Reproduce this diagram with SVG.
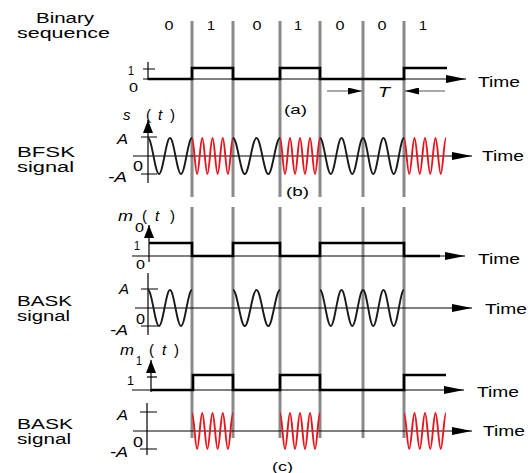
<svg xmlns="http://www.w3.org/2000/svg" width="530" height="473" viewBox="0 0 530 473">
<style>
text{font-family:"Liberation Sans",Arial,sans-serif;fill:#000}
.lab{font-size:14px}
.par{font-size:15px}
.dig{font-size:12.5px}
.tm{font-size:15px}
.it{font-style:italic}
.grid{stroke:#8a8a8a;stroke-width:3;fill:none}
.ax{stroke:#000;stroke-width:1.2;fill:none}
.sq{stroke:#000;stroke-width:2.6;fill:none}
.wk{stroke:#1a1a1a;stroke-width:1.9;fill:none}
.wr{stroke:#e8141c;stroke-width:1.9;fill:none}
</style>
<defs>
<marker id="ah" viewBox="0 0 20 8" refX="20" refY="4" markerWidth="20" markerHeight="8" orient="auto" markerUnits="userSpaceOnUse"><path d="M0,0 L20,4 L0,8 Z" fill="#000"/></marker>
<marker id="av" viewBox="0 0 13 10" refX="13" refY="5" markerWidth="13" markerHeight="10" orient="auto" markerUnits="userSpaceOnUse"><path d="M0,0 L13,5 L0,10 Z" fill="#000"/></marker>
<marker id="at" viewBox="0 0 14 7" refX="14" refY="3.5" markerWidth="14" markerHeight="7" orient="auto" markerUnits="userSpaceOnUse"><path d="M0,0 L14,3.5 L0,7 Z" fill="#000"/></marker>
</defs>

<g id="bit-grid">
<path class="grid" d="M192,21V197M233,21V197M280,21V197M320,21V197M363,21V197M404,21V197"/>
<path class="grid" d="M192,207V438M233,207V438M280,207V438M320,207V438M363,207V438M404,207V438"/>
</g>

<g id="binary-sequence">
<text class="lab" x="36" y="23" textLength="58" lengthAdjust="spacingAndGlyphs">Binary</text>
<text class="lab" x="17" y="38" textLength="93" lengthAdjust="spacingAndGlyphs">sequence</text>
<g class="dig">
<text x="164.5" y="30" textLength="9" lengthAdjust="spacingAndGlyphs">0</text>
<text x="207" y="30" textLength="8" lengthAdjust="spacingAndGlyphs">1</text>
<text x="252.5" y="30" textLength="9" lengthAdjust="spacingAndGlyphs">0</text>
<text x="294" y="30" textLength="8" lengthAdjust="spacingAndGlyphs">1</text>
<text x="335.5" y="30" textLength="9" lengthAdjust="spacingAndGlyphs">0</text>
<text x="377.5" y="30" textLength="9" lengthAdjust="spacingAndGlyphs">0</text>
<text x="419" y="30" textLength="8" lengthAdjust="spacingAndGlyphs">1</text>
</g>
<path class="ax" d="M148,62V80M143,69H155"/>
<path class="ax" d="M143,79H466" marker-end="url(#ah)"/>
<path class="sq" d="M148,79H192V68H233V79H280V68H320V79H404V68H447"/>
<text class="dig" x="128" y="75" textLength="6" lengthAdjust="spacingAndGlyphs">1</text>
<text class="dig" x="129" y="92" textLength="9" lengthAdjust="spacingAndGlyphs">0</text>
<text class="tm" x="478" y="87" textLength="42" lengthAdjust="spacingAndGlyphs">Time</text>
<path d="M327,91H362" stroke="#555" stroke-width="1.2" marker-end="url(#at)"/>
<path d="M445,91H405" stroke="#555" stroke-width="1.2" marker-end="url(#at)"/>
<text class="lab it" x="378" y="97" textLength="12" lengthAdjust="spacingAndGlyphs">T</text>
<text class="dig" x="284" y="114" textLength="23" lengthAdjust="spacingAndGlyphs">(a)</text>
</g>

<g id="bfsk-signal">
<text class="lab" x="17" y="157" textLength="58" lengthAdjust="spacingAndGlyphs">BFSK</text>
<text class="lab" x="17" y="172" textLength="57" lengthAdjust="spacingAndGlyphs">signal</text>
<text class="par it" x="123" y="120">s</text>
<text class="par" x="146" y="120">(</text>
<text class="par it" x="158" y="120">t</text>
<text class="par" x="170" y="120">)</text>
<path class="ax" d="M148,183V120" marker-end="url(#av)"/>
<path class="ax" d="M141,137H157M141,174H157"/>
<path class="ax" d="M133,156H472" marker-end="url(#ah)"/>
<text class="lab it" x="117" y="144" textLength="11" lengthAdjust="spacingAndGlyphs">A</text>
<text class="lab" x="133" y="171" textLength="10" lengthAdjust="spacingAndGlyphs">0</text>
<text class="lab it" x="108" y="182" textLength="19" lengthAdjust="spacingAndGlyphs">-A</text>
<path class="wk" d="M148,138 c4,0 7,36 11,36 s7,-36 11,-36 s7,36 11,36 s7,-36 11,-36
M233,138 c4.28,0 7.47,36 11.75,36 s7.47,-36 11.75,-36 s7.47,36 11.75,36 s7.47,-36 11.75,-36
M320,138 c3.92,0 6.83,36 10.75,36 s6.83,-36 10.75,-36 s6.83,36 10.75,36 s6.83,-36 10.75,-36 s6.52,36 10.25,36 s6.52,-36 10.25,-36 s6.52,36 10.25,36 s6.52,-36 10.25,-36"/>
<path class="wr" d="M192,138 c1.87,0 3.26,36 5.13,36 s3.26,-36 5.13,-36 s3.26,36 5.13,36 s3.26,-36 5.13,-36 s3.26,36 5.13,36 s3.26,-36 5.13,-36 s3.26,36 5.13,36 s3.26,-36 5.13,-36
M280,138 c1.82,0 3.18,36 5,36 s3.18,-36 5,-36 s3.18,36 5,36 s3.18,-36 5,-36 s3.18,36 5,36 s3.18,-36 5,-36 s3.18,36 5,36 s3.18,-36 5,-36
M404,138 c1.91,0 3.34,36 5.25,36 s3.34,-36 5.25,-36 s3.34,36 5.25,36 s3.34,-36 5.25,-36 s3.34,36 5.25,36 s3.34,-36 5.25,-36 s3.34,36 5.25,36 s3.34,-36 5.25,-36"/>
<text class="tm" x="482" y="161" textLength="42" lengthAdjust="spacingAndGlyphs">Time</text>
<text class="dig" x="286" y="196" textLength="23" lengthAdjust="spacingAndGlyphs">(b)</text>
</g>

<g id="m0">
<text class="par it" x="118" y="221" textLength="15" lengthAdjust="spacingAndGlyphs">m</text>
<text class="dig" x="135" y="232" textLength="9" lengthAdjust="spacingAndGlyphs">0</text>
<text class="par" x="142" y="221">(</text>
<text class="par it" x="155" y="221">t</text>
<text class="par" x="170" y="221">)</text>
<path class="ax" d="M149,262V225" marker-end="url(#av)"/>
<path class="ax" d="M132,256H465" marker-end="url(#ah)"/>
<path class="sq" d="M149,243H192V256H233V243H280V256H320V243H404V256H440"/>
<text class="dig" x="134" y="250" textLength="6" lengthAdjust="spacingAndGlyphs">1</text>
<text class="dig" x="136" y="269" textLength="9" lengthAdjust="spacingAndGlyphs">0</text>
<text class="tm" x="478" y="264" textLength="42" lengthAdjust="spacingAndGlyphs">Time</text>
</g>

<g id="bask-signal-1">
<text class="lab" x="17" y="306" textLength="55" lengthAdjust="spacingAndGlyphs">BASK</text>
<text class="lab" x="17" y="321" textLength="53" lengthAdjust="spacingAndGlyphs">signal</text>
<path class="ax" d="M148,273V335M141,289H158M141,326H158"/>
<path class="ax" d="M135,308H472" marker-end="url(#ah)"/>
<text class="lab it" x="119" y="294" textLength="10" lengthAdjust="spacingAndGlyphs">A</text>
<text class="lab" x="136" y="324" textLength="9" lengthAdjust="spacingAndGlyphs">0</text>
<text class="lab it" x="110" y="335" textLength="18" lengthAdjust="spacingAndGlyphs">-A</text>
<path class="wk" d="M148,290 c4,0 7,36 11,36 s7,-36 11,-36 s7,36 11,36 s7,-36 11,-36
M233,290 c4.28,0 7.47,36 11.75,36 s7.47,-36 11.75,-36 s7.47,36 11.75,36 s7.47,-36 11.75,-36
M320,290 c3.92,0 6.83,36 10.75,36 s6.83,-36 10.75,-36 s6.83,36 10.75,36 s6.83,-36 10.75,-36 s6.52,36 10.25,36 s6.52,-36 10.25,-36 s6.52,36 10.25,36 s6.52,-36 10.25,-36"/>
<text class="tm" x="485" y="314" textLength="42" lengthAdjust="spacingAndGlyphs">Time</text>
</g>

<g id="m1">
<text class="par it" x="120" y="355" textLength="14" lengthAdjust="spacingAndGlyphs">m</text>
<text class="dig" x="136" y="365" textLength="6" lengthAdjust="spacingAndGlyphs">1</text>
<text class="par" x="149" y="355">(</text>
<text class="par it" x="162" y="355">t</text>
<text class="par" x="174" y="355">)</text>
<path class="ax" d="M151,392V360" marker-end="url(#av)"/>
<path class="ax" d="M147,377H157"/>
<path class="ax" d="M132,390H464" marker-end="url(#ah)"/>
<path class="sq" d="M151,390H193V375H233V390H280V375H320V390H404V375H446"/>
<text class="dig" x="127" y="385" textLength="7" lengthAdjust="spacingAndGlyphs">1</text>
<text class="tm" x="477" y="397" textLength="42" lengthAdjust="spacingAndGlyphs">Time</text>
</g>

<g id="bask-signal-2">
<text class="lab" x="17" y="429" textLength="56" lengthAdjust="spacingAndGlyphs">BASK</text>
<text class="lab" x="17" y="444" textLength="54" lengthAdjust="spacingAndGlyphs">signal</text>
<path class="ax" d="M147,403V455M140,412H157M140,449H157"/>
<path class="ax" d="M133,431H472" marker-end="url(#ah)"/>
<text class="lab it" x="117" y="420" textLength="11" lengthAdjust="spacingAndGlyphs">A</text>
<text class="lab" x="133" y="447" textLength="10" lengthAdjust="spacingAndGlyphs">0</text>
<text class="lab it" x="110" y="457" textLength="18" lengthAdjust="spacingAndGlyphs">-A</text>
<path class="wr" d="M192,413 c1.87,0 3.26,36 5.13,36 s3.26,-36 5.13,-36 s3.26,36 5.13,36 s3.26,-36 5.13,-36 s3.26,36 5.13,36 s3.26,-36 5.13,-36 s3.26,36 5.13,36 s3.26,-36 5.13,-36
M280,413 c1.82,0 3.18,36 5,36 s3.18,-36 5,-36 s3.18,36 5,36 s3.18,-36 5,-36 s3.18,36 5,36 s3.18,-36 5,-36 s3.18,36 5,36 s3.18,-36 5,-36
M404,413 c1.91,0 3.34,36 5.25,36 s3.34,-36 5.25,-36 s3.34,36 5.25,36 s3.34,-36 5.25,-36 s3.34,36 5.25,36 s3.34,-36 5.25,-36 s3.34,36 5.25,36 s3.34,-36 5.25,-36"/>
<text class="tm" x="483" y="436" textLength="42" lengthAdjust="spacingAndGlyphs">Time</text>
<text class="dig" x="272" y="471" textLength="21" lengthAdjust="spacingAndGlyphs">(c)</text>
</g>
</svg>
